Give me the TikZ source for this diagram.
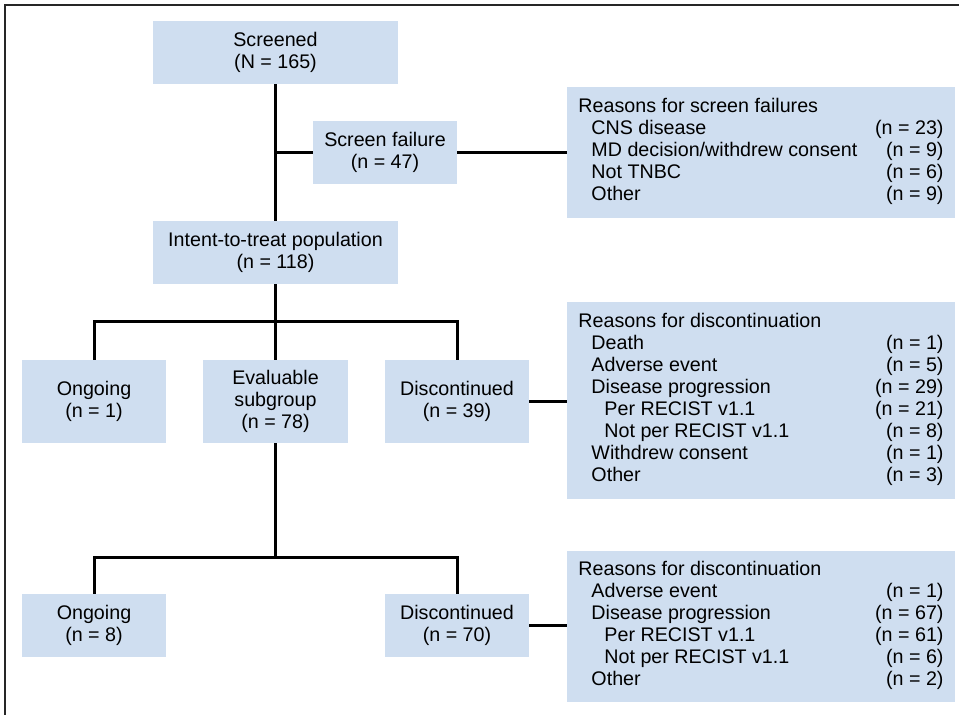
\documentclass[tikz,border=0pt]{standalone}
\usepackage{fontspec}
\setmainfont{Liberation Sans}
\usepackage{tikz}

\definecolor{boxblue}{RGB}{207,222,240}
\newcommand{\flowfont}{\fontsize{14}{15.65}\selectfont}
\newcommand{\ia}{\hspace*{0.325cm}}
\newcommand{\ib}{\hspace*{0.65cm}}
\newenvironment{whylist}{\begin{tabular*}{9.125cm}{@{}l@{\extracolsep{\fill}}r@{}}}{\end{tabular*}}

\begin{document}
\begin{tikzpicture}[x=0.025cm,y=-0.025cm]
            \tikzstyle{every node}+=[inner sep=0pt]
            \tikzstyle{box}=[fill=boxblue, align=center, font=\flowfont]
            \tikzstyle{why}=[fill=boxblue, font=\flowfont, minimum width=388*0.025cm]
            \tikzstyle{link}=[line width=0.075cm, black]
            \useasboundingbox (0,0) rectangle (959,715);
            % frame
            \draw [line width=0.05cm, black!85] (5,715) -- (5,5) -- (959,5);
            % main column
            \node [box, minimum width=245*0.025cm, minimum height=63*0.025cm] (scr) at (275.5,52.5) {Screened\\(N = 165)};
            \node [box, minimum width=144*0.025cm, minimum height=63*0.025cm] (fail) at (385,152.5) {Screen failure\\(n = 47)};
            \node [box, minimum width=245*0.025cm, minimum height=63*0.025cm] (itt) at (275.5,252.5) {Intent-to-treat population\\(n = 118)};
            \node [box, minimum width=144*0.025cm, minimum height=83*0.025cm] (ong1) at (94,401.5) {Ongoing\\(n = 1)};
            \node [box, minimum width=145*0.025cm, minimum height=83*0.025cm] (eval) at (275.5,401.5) {Evaluable\\subgroup\\(n = 78)};
            \node [box, minimum width=144*0.025cm, minimum height=83*0.025cm] (disc1) at (457,401.5) {Discontinued\\(n = 39)};
            \node [box, minimum width=144*0.025cm, minimum height=63*0.025cm] (ong2) at (94,625.5) {Ongoing\\(n = 8)};
            \node [box, minimum width=144*0.025cm, minimum height=63*0.025cm] (disc2) at (457,625.5) {Discontinued\\(n = 70)};
            % reasons
            \node [why, minimum height=131*0.025cm] (rfail) at (761,152.5) {\begin{whylist}
              Reasons for screen failures & \\
              \ia CNS disease & (n = 23)\\
              \ia MD decision/withdrew consent & (n = 9)\\
              \ia Not TNBC & (n = 6)\\
              \ia Other & (n = 9)
            \end{whylist}};
            \node [why, minimum height=197*0.025cm] (rdisc1) at (761,400.5) {\begin{whylist}
              Reasons for discontinuation & \\
              \ia Death & (n = 1)\\
              \ia Adverse event & (n = 5)\\
              \ia Disease progression & (n = 29)\\
              \ib Per RECIST v1.1 & (n = 21)\\
              \ib Not per RECIST v1.1 & (n = 8)\\
              \ia Withdrew consent & (n = 1)\\
              \ia Other & (n = 3)
            \end{whylist}};
            \node [why, minimum height=151*0.025cm] (rdisc2) at (761,626.5) {\begin{whylist}
              Reasons for discontinuation & \\
              \ia Adverse event & (n = 1)\\
              \ia Disease progression & (n = 67)\\
              \ib Per RECIST v1.1 & (n = 61)\\
              \ib Not per RECIST v1.1 & (n = 6)\\
              \ia Other & (n = 2)
            \end{whylist}};
            % connectors
            \coordinate (j1) at (275.5,321);
            \coordinate (j2) at (275.5,557);
            \draw [link] (scr.south) -- (itt.north);
            \draw [link] (fail.west -| scr.south) -- (fail.west);
            \draw [link] (fail.east) -- (rfail.west |- fail.east);
            \draw [link] (itt.south) -- (j1);
            \draw [link] (ong1.north) |- (j1) -| (disc1.north);
            \draw [link] (j1) -- (eval.north);
            \draw [link] (disc1.east) -- (rdisc1.west |- disc1.east);
            \draw [link] (eval.south) -- (j2);
            \draw [link] (ong2.north) |- (j2) -| (disc2.north);
            \draw [link] (disc2.east) -- (rdisc2.west |- disc2.east);
        \end{tikzpicture}
\end{document}
